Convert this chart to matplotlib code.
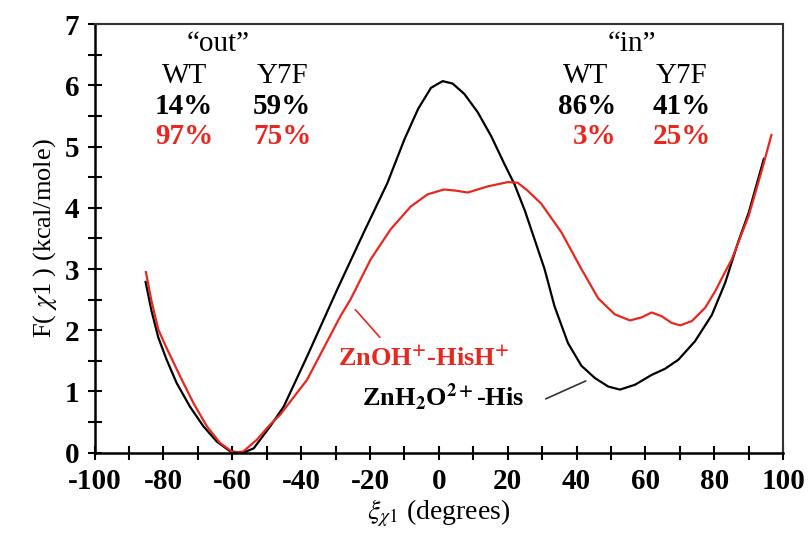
import matplotlib
matplotlib.use("Agg")
import matplotlib.pyplot as plt
from matplotlib.ticker import MultipleLocator

# free energy profiles
x_zn_h2o = [-85.2, -83.5, -81.5, -79.1, -76.2, -72.3, -68.4, -64.5, -60.6, -56.8,
            -53.8, -49.0, -45.1, -38.3, -29.5, -21.8, -15.0, -10.0, -6.0, -2.3,
            1.1, 4.0, 7.4, 11.3, 15.2, 19.0, 22.0, 25.0, 28.0, 30.7,
            33.6, 37.5, 41.4, 45.3, 49.2, 52.6, 57.0, 61.8, 65.7, 69.6,
            74.4, 79.3, 83.2, 87.0, 90.0, 94.4]
f_zn_h2o = [2.79, 2.32, 1.88, 1.52, 1.14, 0.75, 0.43, 0.18, 0.02, 0.0,
            0.07, 0.43, 0.75, 1.57, 2.67, 3.60, 4.40, 5.12, 5.62, 5.96,
            6.07, 6.03, 5.86, 5.56, 5.17, 4.72, 4.38, 3.95, 3.45, 3.00,
            2.39, 1.79, 1.42, 1.22, 1.08, 1.03, 1.11, 1.27, 1.37, 1.52,
            1.82, 2.25, 2.78, 3.45, 3.92, 4.80]

x_zn_oh = [-85.1, -83.5, -81.5, -79.1, -75.2, -71.3, -67.4, -63.6, -59.7, -56.8,
           -52.9, -49.0, -46.1, -38.3, -28.6, -25.7, -19.8, -14.0, -8.2, -3.3,
           1.5, 5.0, 8.4, 14.2, 20.0, 22.9, 25.8, 29.7, 35.6, 41.4,
           46.3, 51.1, 55.5, 58.9, 61.8, 64.7, 67.6, 70.1, 73.5, 77.4,
           80.3, 82.2, 85.1, 90.0, 93.9, 96.6]
f_zn_oh = [2.95, 2.48, 2.01, 1.71, 1.25, 0.81, 0.43, 0.16, 0.0, 0.02,
           0.21, 0.46, 0.62, 1.19, 2.23, 2.50, 3.16, 3.65, 4.02, 4.22,
           4.30, 4.28, 4.25, 4.35, 4.42, 4.41, 4.28, 4.07, 3.60, 3.00,
           2.52, 2.26, 2.16, 2.21, 2.29, 2.23, 2.12, 2.08, 2.15, 2.37,
           2.64, 2.85, 3.16, 3.87, 4.63, 5.19]

out_black = ["14%", "59%"]
out_red = ["97%", "75%"]
in_black = ["86%", "41%"]
in_red = ["3%", "25%"]

RED = "#e8271e"

plt.rcParams["font.family"] = ["Liberation Serif", "DejaVu Serif"]
plt.rcParams["mathtext.fontset"] = "stix"
plt.rcParams["axes.unicode_minus"] = False

fig = plt.figure(figsize=(8.09, 5.5), dpi=100)
ax = fig.add_axes([0.117, 0.177, 0.851, 0.779])

ax.plot(x_zn_h2o, f_zn_h2o, color="black", lw=1.6)
ax.plot(x_zn_oh, f_zn_oh, color=RED, lw=1.6)

ax.set_xlim(-100, 100)
ax.set_ylim(0, 7)
ax.xaxis.set_major_locator(MultipleLocator(20))
ax.xaxis.set_minor_locator(MultipleLocator(10))
ax.yaxis.set_major_locator(MultipleLocator(1))
ax.yaxis.set_minor_locator(MultipleLocator(0.5))
ax.tick_params(which="both", direction="inout", length=10, width=1.5,
               top=False, right=False, labelsize=21, pad=6)
for lab in ax.get_xticklabels() + ax.get_yticklabels():
    lab.set_fontweight("bold")
for side in ["left", "bottom"]:
    ax.spines[side].set_linewidth(1.8)
for side in ["top", "right"]:
    ax.spines[side].set_linewidth(1.5)
    ax.spines[side].set_color("#333333")

ax.set_xlabel(r"$\xi_{\chi1}$ (degrees)", fontsize=20, labelpad=2)
ax.set_ylabel(r"F( $\chi$1 ) (kcal/mole)", fontsize=19, labelpad=4)

fs = 21
# "out" block
ax.text(-64, 6.68, "\u201cout\u201d", fontsize=fs, ha="center", va="center")
ax.text(-74, 6.16, "WT", fontsize=fs, ha="center", va="center")
ax.text(-45.5, 6.16, "Y7F", fontsize=fs, ha="center", va="center")
ax.text(-74, 5.65, out_black[0], fontsize=fs, ha="center", va="center", fontweight="bold")
ax.text(-45.5, 5.65, out_black[1], fontsize=fs, ha="center", va="center", fontweight="bold")
ax.text(-74, 5.16, out_red[0], fontsize=fs, ha="center", va="center", fontweight="bold", color=RED)
ax.text(-45.5, 5.16, out_red[1], fontsize=fs, ha="center", va="center", fontweight="bold", color=RED)

# "in" block
ax.text(56, 6.68, "\u201cin\u201d", fontsize=fs, ha="center", va="center")
ax.text(42.5, 6.16, "WT", fontsize=fs, ha="center", va="center")
ax.text(70.6, 6.16, "Y7F", fontsize=fs, ha="center", va="center")
ax.text(51.5, 5.65, in_black[0], fontsize=fs, ha="right", va="center", fontweight="bold")
ax.text(70.6, 5.65, in_black[1], fontsize=fs, ha="center", va="center", fontweight="bold")
ax.text(51.5, 5.16, in_red[0], fontsize=fs, ha="right", va="center", fontweight="bold", color=RED)
ax.text(70.6, 5.16, in_red[1], fontsize=fs, ha="center", va="center", fontweight="bold", color=RED)

# curve labels with leader lines
ax.text(-4.4, 1.55, r"ZnOH$^{\mathbf{+}}$-HisH$^{\mathbf{+}}$", fontsize=19,
        ha="center", va="center", fontweight="bold", color=RED)
ax.text(1.2, 0.91, r"ZnH$_{\mathbf{2}}$O$^{\mathbf{2+}}$-His", fontsize=19,
        ha="center", va="center", fontweight="bold", color="black")
ax.annotate("", xy=(-24.8, 2.37), xytext=(-16.6, 1.85),
            arrowprops=dict(arrowstyle="-", color=RED, lw=1.2))
ax.annotate("", xy=(43.4, 1.19), xytext=(30.3, 0.86),
            arrowprops=dict(arrowstyle="-", color="#333333", lw=1.2))

fig.savefig("out.png", dpi=100)
plt.close(fig)
